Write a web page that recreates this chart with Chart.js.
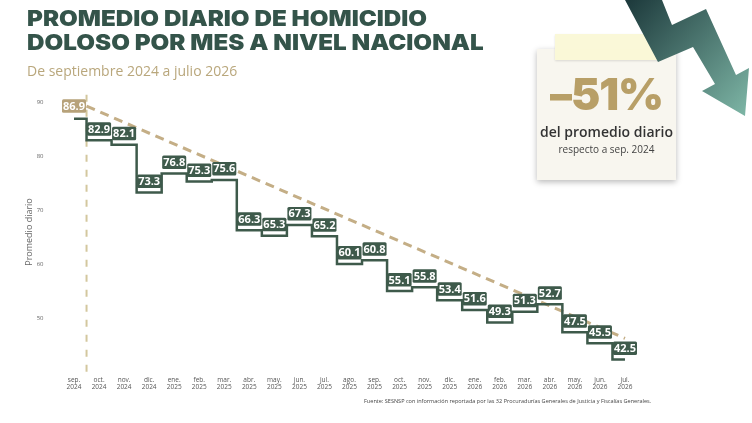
<!DOCTYPE html>
<html>
<head>
<meta charset="utf-8">
<script src="https://cdn.jsdelivr.net/npm/chart.js@4.4.1/dist/chart.umd.min.js"></script>
<style>
  html, body { margin: 0; padding: 0; background: #fff; }
  #wrap { position: relative; width: 752px; height: 423px; overflow: hidden; background: #fff; }
  #chart { position: absolute; left: 0; top: 0; }
  .title { position: absolute; left: 27px; top: 7px; font-family: Inter, sans-serif; font-weight: 900;
           font-size: 22px; line-height: 23.5px; color: #34544a; white-space: nowrap;
           transform: scaleX(1.1); transform-origin: 0 0; }
  .sub { position: absolute; left: 27px; top: 61px; font-family: "Open Sans", sans-serif; font-size: 14px;
         color: #b9a77c; white-space: nowrap; }
  .note { position: absolute; left: 537px; top: 49px; width: 139px; height: 131px; background: #f8f6ef;
          box-shadow: 0 2px 6px rgba(0,0,0,0.28); text-align: center; font-family: "Open Sans", sans-serif; }
  .tape { position: absolute; left: 555px; top: 34px; width: 104px; height: 26px; background: rgba(250,248,214,0.94);
          box-shadow: 0 1px 2px rgba(0,0,0,0.12); }
  .big { position: absolute; left: 0; width: 139px; top: 21px; font-family: Inter, sans-serif; font-weight: 900;
         font-size: 44px; line-height: 48px; color: #b89f67; letter-spacing: -1px; }
  .l1 { position: absolute; left: 0; width: 139px; top: 73px; font-size: 14px; font-weight: 600; color: #333; }
  .l2 { position: absolute; left: 0; width: 139px; top: 93px; font-size: 10px; color: #444; }
  .src { position: absolute; left: 364px; top: 397px; font-family: "Open Sans", sans-serif; font-size: 5.55px;
         color: #444; white-space: nowrap; }
  svg { position: absolute; left: 0; top: 0; }
</style>
</head>
<body>
<div id="wrap">
  <canvas id="chart" width="752" height="423"></canvas>
  <div class="title">PROMEDIO DIARIO DE HOMICIDIO<br>DOLOSO POR MES A NIVEL NACIONAL</div>
  <div class="sub">De septiembre 2024 a julio 2026</div>
  <div class="note">
    <div class="big">–51%</div>
    <div class="l1">del promedio diario</div>
    <div class="l2">respecto a sep. 2024</div>
  </div>
  <div class="tape"></div>
  <svg width="752" height="423">
    <defs>
      <linearGradient id="ag" x1="630" y1="0" x2="750" y2="110" gradientUnits="userSpaceOnUse">
        <stop offset="0" stop-color="#1e3b3d"/>
        <stop offset="1" stop-color="#7db5a5"/>
      </linearGradient>
    </defs>
    <polygon fill="url(#ag)" points="625,0 658,62 693,47 715,84 702,91 745,116 749,68 736,75 706,9 672,25 662,0"/>
  </svg>
  <div class="src">Fuente: SESNSP con información reportada por las 32 Procuradurías Generales de Justicia y Fiscalías Generales.</div>
</div>
<script>
'use strict';

// months sep 2024 .. jul 2026
const months = ['sep.', 'oct.', 'nov.', 'dic.', 'ene.', 'feb.', 'mar.', 'abr.', 'may.', 'jun.', 'jul.', 'ago.',
                'sep.', 'oct.', 'nov.', 'dic.', 'ene.', 'feb.', 'mar.', 'abr.', 'may.', 'jun.', 'jul.'];
const years = ['2024', '2024', '2024', '2024', '2025', '2025', '2025', '2025', '2025', '2025', '2025', '2025',
               '2025', '2025', '2025', '2025', '2026', '2026', '2026', '2026', '2026', '2026', '2026'];
const dailyAvg = [86.9, 82.9, 82.1, 73.3, 76.8, 75.3, 75.6, 66.3, 65.3, 67.3, 65.2, 60.1,
                  60.8, 55.1, 55.8, 53.4, 51.6, 49.3, 51.3, 52.7, 47.5, 45.5, 42.5];
const trendLine = [{x: 0.5, y: 89.2}, {x: 22, y: 46.4}];
const startMarker = [{x: 0.5, y: 91.3}, {x: 0.5, y: 40}];
const yTicks = [50, 60, 70, 80, 90];

const labels = months.map((m, i) => [m, years[i]]);

// value boxes above each step
const boxLabels = {
    id: 'boxLabels',
    afterDatasetsDraw: function (chart) {
        const meta = chart.getDatasetMeta(0);
        const ctx = chart.ctx;
        const xs = chart.scales.x;
        const w = xs.getPixelForValue(1) - xs.getPixelForValue(0);
        ctx.save();
        ctx.font = '700 11px "Open Sans"';
        ctx.textAlign = 'center';
        ctx.textBaseline = 'middle';
        meta.data.forEach(function (pt, i) {
            const bw = w - 1;
            const bh = 13.5;
            const bottom = pt.y - (i === 0 ? 6 : 4.5);
            ctx.fillStyle = i === 0 ? '#b7a27a' : '#3e5a4b';
            ctx.beginPath();
            ctx.roundRect(pt.x - bw / 2, bottom - bh, bw, bh, 1.5);
            ctx.fill();
            ctx.fillStyle = '#fff';
            ctx.fillText(dailyAvg[i].toFixed(1), pt.x, bottom - bh / 2 + 0.5);
        });
        ctx.restore();
    }
};

new Chart(document.getElementById('chart'), {
    type: 'line',
    data: {
        labels: labels,
        datasets: [{
            data: dailyAvg,
            stepped: 'middle',
            borderColor: '#3e5a4b',
            borderWidth: 2.5,
            pointRadius: 0,
            fill: false
        }, {
            data: trendLine,
            xAxisID: 'x2',
            borderColor: '#c4ae86',
            borderWidth: 3,
            borderDash: [9, 6],
            pointRadius: 0,
            fill: false
        }, {
            data: startMarker,
            xAxisID: 'x2',
            borderColor: '#d3c79e',
            borderWidth: 2,
            borderDash: [7, 8],
            pointRadius: 0,
            fill: false
        }]
    },
    options: {
        responsive: false,
        animation: false,
        layout: { padding: { left: 24.5, right: 114.5, top: 91, bottom: 20 } },
        plugins: { legend: { display: false }, tooltip: { enabled: false } },
        scales: {
            x: {
                type: 'category',
                offset: true,
                grid: { display: false, drawTicks: false },
                border: { display: false },
                ticks: {
                    autoSkip: false, maxRotation: 0, padding: 3, color: '#555',
                    font: { family: 'Open Sans', size: 6.5, lineHeight: 1.15 }
                },
                afterFit: function (s) { s.height = 30; }
            },
            x2: { type: 'linear', display: false, min: -0.5, max: 22.5 },
            y: {
                min: 40,
                max: 92,
                grid: { display: false, drawTicks: false },
                border: { display: false },
                afterBuildTicks: function (s) { s.ticks = yTicks.map(v => ({value: v})); },
                ticks: { padding: 18, color: '#666', font: { family: 'Open Sans', size: 6 } },
                title: {
                    display: true, text: 'Promedio diario', color: '#666', padding: 0,
                    font: { family: 'Open Sans', size: 9 }
                },
                afterFit: function (s) { s.width = 37; }
            }
        }
    },
    plugins: [boxLabels]
});
</script>
</body>
</html>
